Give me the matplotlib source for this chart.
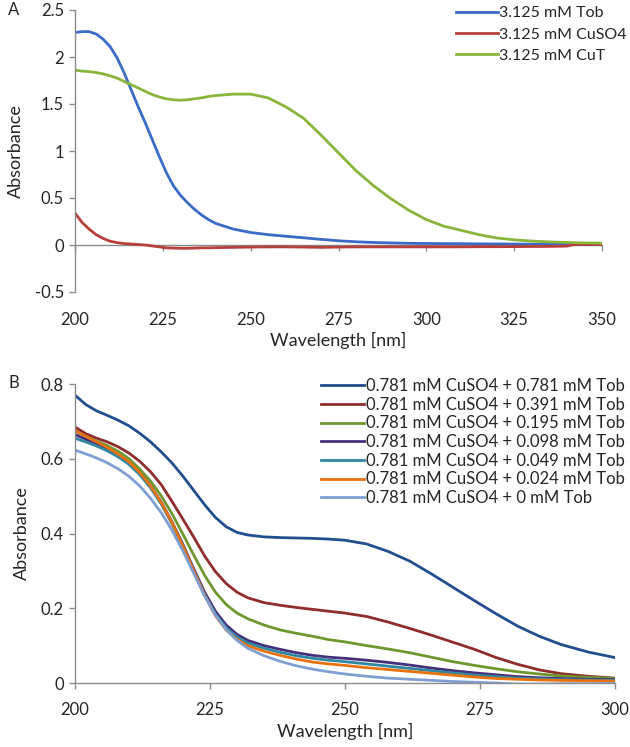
import matplotlib
matplotlib.use("Agg")
import matplotlib.pyplot as plt

plt.rcParams['font.family'] = ['Lato', 'DejaVu Sans']

# ---- panel A data ----
wl_a = [200, 202, 204, 206, 208, 210, 212, 214, 216, 218, 220, 222, 224, 226, 228, 230,
        232, 234, 236, 238, 240, 245, 250, 255, 260, 265, 270, 275, 280, 285, 290, 295,
        300, 305, 310, 315, 320, 325, 330, 335, 340, 342, 345, 350]
tob_a = [2.26, 2.27, 2.27, 2.245, 2.19, 2.11, 1.99, 1.83, 1.65, 1.47, 1.30, 1.12, 0.94, 0.77,
         0.63, 0.53, 0.45, 0.38, 0.32, 0.27, 0.23, 0.17, 0.133, 0.11, 0.093, 0.077, 0.06,
         0.045, 0.034, 0.027, 0.022, 0.018, 0.016, 0.015, 0.014, 0.012, 0.011, 0.01, 0.009,
         0.008, 0.007, 0.007, 0.006, 0.006]
cuso4_a = [0.34, 0.24, 0.17, 0.11, 0.07, 0.04, 0.025, 0.015, 0.01, 0.005, 0.0, -0.01, -0.02,
           -0.03, -0.033, -0.035, -0.035, -0.033, -0.03, -0.03, -0.028, -0.025, -0.022,
           -0.02, -0.02, -0.022, -0.025, -0.022, -0.02, -0.02, -0.02, -0.02, -0.02, -0.02,
           -0.02, -0.018, -0.018, -0.017, -0.016, -0.015, -0.012, 0.005, 0.005, 0.005]
cut_a = [1.86, 1.85, 1.845, 1.835, 1.82, 1.80, 1.775, 1.74, 1.705, 1.67, 1.635, 1.60, 1.575,
         1.555, 1.545, 1.54, 1.545, 1.555, 1.565, 1.58, 1.59, 1.605, 1.605, 1.565, 1.47,
         1.35, 1.17, 0.98, 0.79, 0.63, 0.49, 0.37, 0.27, 0.20, 0.155, 0.11, 0.075, 0.055,
         0.042, 0.033, 0.027, 0.025, 0.022, 0.02]
labels_a = ["3.125 mM Tob", "3.125 mM CuSO4", "3.125 mM CuT"]
colors_a = ["#3A6BC6", "#B8403C", "#8AB43C"]

# ---- panel B data ----
wl_b = [200, 202, 204, 206, 208, 210, 212, 214, 216, 218, 220, 222, 224, 226, 228, 230,
        232, 235, 238, 241, 244, 247, 250, 254, 258, 262, 266, 270, 274, 278, 282, 286,
        290, 295, 300]
tob_781 = [0.77, 0.745, 0.728, 0.716, 0.703, 0.688, 0.668, 0.645, 0.618, 0.588, 0.553,
           0.515, 0.477, 0.443, 0.418, 0.403, 0.396, 0.391, 0.389, 0.388, 0.387, 0.385,
           0.382, 0.372, 0.352, 0.326, 0.292, 0.256, 0.22, 0.185, 0.152, 0.125, 0.103,
           0.083, 0.068]
tob_391 = [0.685, 0.667, 0.655, 0.645, 0.632, 0.615, 0.593, 0.565, 0.53, 0.485, 0.438,
           0.39, 0.34, 0.298, 0.266, 0.243, 0.228, 0.215, 0.208, 0.202, 0.197, 0.192,
           0.187, 0.178, 0.163, 0.146, 0.128, 0.109, 0.09, 0.068, 0.05, 0.035, 0.025,
           0.018, 0.013]
tob_195 = [0.675, 0.66, 0.647, 0.635, 0.62, 0.60, 0.572, 0.54, 0.50, 0.452, 0.398, 0.342,
           0.288, 0.243, 0.21, 0.187, 0.172, 0.155, 0.142, 0.133, 0.125, 0.116, 0.11, 0.10,
           0.091, 0.081, 0.069, 0.057, 0.047, 0.038, 0.03, 0.024, 0.019, 0.015, 0.012]
tob_098 = [0.665, 0.652, 0.64, 0.627, 0.61, 0.59, 0.562, 0.527, 0.483, 0.43, 0.37, 0.305,
           0.243, 0.192, 0.155, 0.13, 0.114, 0.10, 0.09, 0.081, 0.074, 0.069, 0.066, 0.061,
           0.055, 0.048, 0.04, 0.033, 0.027, 0.022, 0.017, 0.014, 0.012, 0.01, 0.009]
tob_049 = [0.655, 0.645, 0.634, 0.621, 0.605, 0.585, 0.557, 0.522, 0.478, 0.425, 0.364,
           0.299, 0.236, 0.185, 0.148, 0.123, 0.107, 0.093, 0.082, 0.073, 0.066, 0.061,
           0.057, 0.051, 0.045, 0.039, 0.033, 0.027, 0.021, 0.017, 0.013, 0.011, 0.009,
           0.008, 0.007]
tob_024 = [0.675, 0.66, 0.645, 0.63, 0.612, 0.592, 0.563, 0.527, 0.482, 0.428, 0.366, 0.30,
           0.235, 0.18, 0.142, 0.117, 0.10, 0.085, 0.074, 0.064, 0.056, 0.051, 0.047, 0.041,
           0.036, 0.031, 0.026, 0.021, 0.016, 0.012, 0.01, 0.008, 0.007, 0.006, 0.005]
tob_0 = [0.623, 0.613, 0.602, 0.589, 0.573, 0.553, 0.527, 0.494, 0.455, 0.408, 0.353, 0.293,
         0.233, 0.182, 0.143, 0.114, 0.093, 0.073, 0.058, 0.046, 0.037, 0.03, 0.024, 0.018,
         0.013, 0.01, 0.007, 0.004, 0.002, 0.0, -0.003, -0.003, -0.002, -0.002, -0.001]
labels_b = ["0.781 mM CuSO4 + 0.781 mM Tob", "0.781 mM CuSO4 + 0.391 mM Tob",
            "0.781 mM CuSO4 + 0.195 mM Tob", "0.781 mM CuSO4 + 0.098 mM Tob",
            "0.781 mM CuSO4 + 0.049 mM Tob", "0.781 mM CuSO4 + 0.024 mM Tob",
            "0.781 mM CuSO4 + 0 mM Tob"]
colors_b = ["#224E8E", "#8E2D2B", "#6F9730", "#46307A", "#2F87A3", "#E8720F", "#7F9FD3"]

axis_grey = "#8C8C8C"
txt = "#262626"

fig = plt.figure(figsize=(6.3, 7.47), dpi=100)
W, H = 630.0, 747.0

# ---------------- panel A ----------------
ax1 = fig.add_axes([75 / W, 1 - 292 / H, (602 - 75) / W, (292 - 10) / H])
for y, lab, c in zip([tob_a, cuso4_a, cut_a], labels_a, colors_a):
    ax1.plot(wl_a, y, color=c, lw=2.0, label=lab)
ax1.set_xlim(200, 350)
ax1.set_ylim(-0.5, 2.5)
ax1.set_xticks([200, 225, 250, 275, 300, 325, 350])
ax1.set_yticks([-0.5, 0, 0.5, 1, 1.5, 2, 2.5])
ax1.set_yticklabels(["-0.5", "0", "0.5", "1", "1.5", "2", "2.5"])
ax1.spines['top'].set_visible(False)
ax1.spines['right'].set_visible(False)
ax1.spines['bottom'].set_position(('data', 0))
ax1.spines['bottom'].set_zorder(0)
for s in ['left', 'bottom']:
    ax1.spines[s].set_color(axis_grey)
    ax1.spines[s].set_linewidth(1.0)
ax1.tick_params(axis='y', length=4, width=1, color=axis_grey, labelsize=12,
                labelcolor=txt, pad=4)
ax1.tick_params(axis='x', length=4, width=1, color=axis_grey, labelsize=12,
                labelcolor=txt, pad=44)
ax1.set_xlabel("Wavelength [nm]", fontsize=13, color=txt, labelpad=3)
ax1.set_ylabel("Absorbance", fontsize=13, color=txt, labelpad=8)
ax1.legend(loc='upper left', bbox_to_anchor=(456 / W, 1 - 6 / H),
           bbox_transform=fig.transFigure, frameon=False, fontsize=11.5,
           handlelength=2.6, handletextpad=0.1, labelspacing=0.45,
           borderaxespad=0, borderpad=0, labelcolor=txt)
fig.text(8 / W, 1 - 10 / H, "A", fontsize=12, color=txt, va='center', ha='left')

# ---------------- panel B ----------------
ax2 = fig.add_axes([75 / W, 1 - 683 / H, (615 - 75) / W, (683 - 384) / H])
series_b = [tob_781, tob_391, tob_195, tob_098, tob_049, tob_024, tob_0]
for y, lab, c in zip(series_b, labels_b, colors_b):
    ax2.plot(wl_b, y, color=c, lw=2.0, label=lab)
ax2.set_xlim(200, 300)
ax2.set_ylim(0, 0.8)
ax2.set_xticks([200, 225, 250, 275, 300])
ax2.set_yticks([0, 0.2, 0.4, 0.6, 0.8])
ax2.set_yticklabels(["0", "0.2", "0.4", "0.6", "0.8"])
ax2.spines['top'].set_visible(False)
ax2.spines['right'].set_visible(False)
for s in ['left', 'bottom']:
    ax2.spines[s].set_color(axis_grey)
    ax2.spines[s].set_linewidth(1.0)
ax2.tick_params(axis='y', length=4, width=1, color=axis_grey, labelsize=12,
                labelcolor=txt, pad=4)
ax2.tick_params(axis='x', length=4, width=1, color=axis_grey, labelsize=12,
                labelcolor=txt, pad=10)
ax2.set_xlabel("Wavelength [nm]", fontsize=13, color=txt, labelpad=3)
ax2.set_ylabel("Absorbance", fontsize=13, color=txt, labelpad=8)
ax2.legend(loc='upper left', bbox_to_anchor=(321 / W, 1 - 378 / H),
           bbox_transform=fig.transFigure, frameon=False, fontsize=12,
           handlelength=2.6, handletextpad=0.1, labelspacing=0.16,
           borderaxespad=0, borderpad=0, labelcolor=txt)
fig.text(8 / W, 1 - 383 / H, "B", fontsize=12, color=txt, va='center', ha='left')

fig.savefig("out.png", dpi=100)
